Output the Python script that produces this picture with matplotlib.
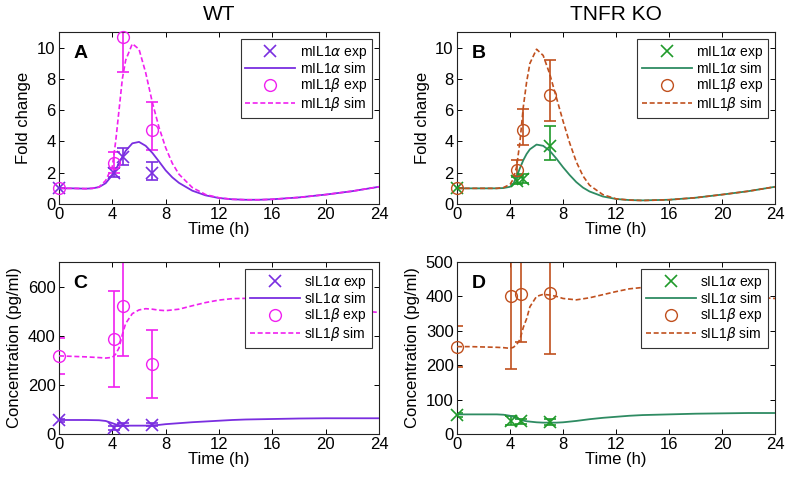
import matplotlib
matplotlib.use("Agg")
import matplotlib.pyplot as plt

plt.rcParams['font.family'] = ['Liberation Sans', 'DejaVu Sans']
plt.rcParams['mathtext.fontset'] = 'dejavusans'

# ---------------- data ----------------
# Panel A (WT, membrane, fold change)
tA_exp = [0, 4.1, 4.8, 7]
mIL1a_A = [1.0, 2.0, 3.0, 2.0]
mIL1a_A_lo = [1.0, 1.7, 2.5, 1.55]
mIL1a_A_hi = [1.0, 2.3, 3.6, 2.7]
mIL1b_A = [1.0, 2.6, 10.7, 4.75]
mIL1b_A_lo = [1.0, 2.0, 8.45, 3.45]
mIL1b_A_hi = [1.0, 3.3, 13.0, 6.55]
tA_sim = [0, 1, 2, 2.5, 3, 3.5, 4, 4.25, 4.5, 4.75, 5, 5.5, 6, 6.5, 7, 7.5, 8, 8.5, 9,
          10, 11, 12, 13, 14, 15, 16, 18, 20, 22, 24]
mIL1a_A_sim = [1.0, 1.0, 0.98, 1.0, 1.08, 1.33, 1.85, 2.2, 2.6, 3.0, 3.4, 3.88, 3.97, 3.72, 3.27,
               2.72, 2.15, 1.7, 1.35, 0.85, 0.55, 0.38, 0.3, 0.27, 0.27, 0.3, 0.42, 0.6, 0.82, 1.1]
mIL1b_A_sim = [1.0, 1.0, 0.98, 1.0, 1.08, 1.5, 2.4, 4.0, 6.0, 8.0, 9.2, 10.25, 9.9, 8.4, 6.5,
               4.9, 3.6, 2.6, 1.9, 1.05, 0.6, 0.4, 0.3, 0.27, 0.27, 0.3, 0.42, 0.6, 0.82, 1.1]

# Panel B (TNFR KO, membrane, fold change)
tB_exp = [0, 4.5, 5.0, 7]
mIL1a_B = [1.0, 1.45, 1.62, 3.7]
mIL1a_B_lo = [1.0, 1.25, 1.35, 2.83]
mIL1a_B_hi = [1.0, 1.7, 1.9, 4.97]
mIL1b_B = [1.0, 2.2, 4.72, 7.0]
mIL1b_B_lo = [1.0, 1.78, 3.76, 5.3]
mIL1b_B_hi = [1.0, 2.8, 6.1, 9.2]
tB_sim = [0, 1, 2, 3, 3.5, 4, 4.25, 4.5, 4.75, 5, 5.25, 5.5, 6, 6.5, 7, 7.5, 8, 8.5, 9, 9.5,
          10, 11, 12, 13, 14, 16, 18, 20, 22, 24]
mIL1a_B_sim = [1.0, 1.0, 1.0, 1.0, 1.02, 1.1, 1.3, 1.75, 2.3, 2.8, 3.2, 3.5, 3.8, 3.72, 3.4,
               2.9, 2.35, 1.85, 1.4, 1.05, 0.8, 0.48, 0.32, 0.25, 0.23, 0.27, 0.4, 0.6, 0.82, 1.1]
mIL1b_B_sim = [1.0, 1.0, 1.0, 1.0, 1.05, 1.25, 1.6, 2.4, 4.0, 6.2, 7.8, 9.0, 9.9, 9.5, 8.3,
               6.8, 5.3, 3.9, 2.7, 1.8, 1.2, 0.6, 0.33, 0.25, 0.22, 0.27, 0.4, 0.6, 0.82, 1.1]

# Panel C (WT, soluble, pg/ml)
tC_exp = [0, 4.1, 4.8, 7]
sIL1a_C = [56, 24, 38, 38]
sIL1a_C_lo = [50, 15, 31, 32]
sIL1a_C_hi = [62, 32, 45, 44]
sIL1b_C = [318, 386, 521, 284]
sIL1b_C_lo = [245, 193, 318, 148]
sIL1b_C_hi = [390, 580, 724, 424]
tC_sim = [0, 1, 2, 3, 3.5, 4, 4.25, 4.5, 4.75, 5, 5.5, 6, 6.5, 7, 7.5, 8, 9, 10, 11, 12,
          13, 14, 16, 18, 20, 22, 24]
sIL1a_C_sim = [57, 57, 57, 56, 53, 44, 39, 36, 35, 34, 34, 34, 34, 35, 37, 40, 44, 48, 51, 54,
               57, 59, 61, 63, 64, 64, 64]
sIL1b_C_sim = [318, 316, 314, 311, 309, 312, 325, 350, 405, 450, 490, 505, 510, 508, 504, 502,
               508, 522, 535, 545, 551, 552, 548, 535, 518, 503, 495]

# Panel D (TNFR KO, soluble, pg/ml)
tD_exp = [0, 4.1, 4.8, 7]
sIL1a_D = [56, 38, 37, 36]
sIL1a_D_lo = [50, 27, 30, 27]
sIL1a_D_hi = [62, 51, 45, 45]
sIL1b_D = [252, 402, 406, 411]
sIL1b_D_lo = [194, 188, 268, 233]
sIL1b_D_hi = [315, 616, 544, 589]
tD_sim = [0, 1, 2, 3, 3.5, 4, 4.25, 4.5, 4.75, 5, 5.25, 5.5, 6, 6.5, 7, 7.5, 8, 9, 10, 11,
          12, 13, 14, 16, 18, 20, 22, 24]
sIL1a_D_sim = [57, 57, 57, 57, 56, 53, 50, 46, 42, 39, 37, 36, 34, 33, 33, 33, 34, 38, 43, 47,
               50, 53, 55, 57, 59, 60, 61, 61]
sIL1b_D_sim = [254, 254, 253, 252, 251, 249, 252, 260, 275, 310, 335, 370, 400, 406, 404, 400,
               394, 390, 396, 405, 414, 422, 426, 425, 418, 408, 399, 394]

xticks = [0, 4, 8, 12, 16, 20, 24]

# ---------------- style ----------------
PURPLE = '#7a2ee0'
MAGENTA = '#f020f0'
GREEN_M = '#1f9a2a'
GREEN_L = '#2e8b62'
BROWN = '#c0501e'

fig = plt.figure(figsize=(7.88, 4.82), dpi=100)

H = 0.3568
axA = fig.add_axes([0.0749, 0.5768, 0.406, H])
axB = fig.add_axes([0.580, 0.5768, 0.4036, H])
axC = fig.add_axes([0.0749, 0.0996, 0.406, H])
axD = fig.add_axes([0.580, 0.0996, 0.4036, H])


def panel(ax, t_exp, a, a_lo, a_hi, b, b_lo, b_hi, t_sim, a_sim, b_sim,
          ca_m, ca_l, cb, labels, ylim, yticks, ylabel, letter):
    ax.errorbar(t_exp, a, yerr=[[v - l for v, l in zip(a, a_lo)], [h - v for v, h in zip(a, a_hi)]],
                fmt='none', ecolor=ca_m, elinewidth=1.2, capsize=4.2, capthick=1.2)
    ax.errorbar(t_exp, b, yerr=[[v - l for v, l in zip(b, b_lo)], [h - v for v, h in zip(b, b_hi)]],
                fmt='none', ecolor=cb, elinewidth=1.2, capsize=4.2, capthick=1.2)
    ax.plot(t_exp, a, linestyle='none', marker='x', ms=9, mew=1.2, color=ca_m,
            label=labels[0], clip_on=False, zorder=4)
    ax.plot(t_sim, a_sim, '-', color=ca_l, lw=1.3, label=labels[1], zorder=3)
    ax.plot(t_exp, b, linestyle='none', marker='o', ms=8.5, mew=1.0, mfc='none', mec=cb,
            label=labels[2], clip_on=False, zorder=4)
    ax.plot(t_sim, b_sim, '--', color=cb, lw=1.2, dashes=(3, 1.6), label=labels[3], zorder=3)
    ax.set_xlim(0, 24)
    ax.set_ylim(*ylim)
    ax.set_xticks(xticks)
    ax.set_yticks(yticks)
    ax.tick_params(direction='in', length=3.5, width=0.7, top=True, right=True,
                   labelsize=12, pad=2.5)
    for s in ax.spines.values():
        s.set_linewidth(0.8)
        s.set_color('#222222')
    ax.set_xlabel('Time (h)', fontsize=12, labelpad=0)
    ax.set_ylabel(ylabel, fontsize=12, labelpad=4)
    ax.text(0.045, 0.925, letter, transform=ax.transAxes, fontsize=14, fontweight='bold',
            va='top', ha='left')
    leg = ax.legend(loc='upper right', fontsize=10, handlelength=3.6, handletextpad=0.3,
                    labelspacing=0.02, borderpad=0.35, borderaxespad=0.5, numpoints=1,
                    fancybox=False, framealpha=1, edgecolor='#333333')
    leg.get_frame().set_linewidth(0.8)
    leg.set_zorder(10)


panel(axA, tA_exp, mIL1a_A, mIL1a_A_lo, mIL1a_A_hi, mIL1b_A, mIL1b_A_lo, mIL1b_A_hi,
      tA_sim, mIL1a_A_sim, mIL1b_A_sim, PURPLE, PURPLE, MAGENTA,
      [r'mIL1$\alpha$ exp', r'mIL1$\alpha$ sim', r'mIL1$\beta$ exp', r'mIL1$\beta$ sim'],
      (0, 11), [0, 2, 4, 6, 8, 10], 'Fold change', 'A')
panel(axB, tB_exp, mIL1a_B, mIL1a_B_lo, mIL1a_B_hi, mIL1b_B, mIL1b_B_lo, mIL1b_B_hi,
      tB_sim, mIL1a_B_sim, mIL1b_B_sim, GREEN_M, GREEN_L, BROWN,
      [r'mIL1$\alpha$ exp', r'mIL1$\alpha$ sim', r'mIL1$\beta$ exp', r'mIL1$\beta$ sim'],
      (0, 11), [0, 2, 4, 6, 8, 10], 'Fold change', 'B')
panel(axC, tC_exp, sIL1a_C, sIL1a_C_lo, sIL1a_C_hi, sIL1b_C, sIL1b_C_lo, sIL1b_C_hi,
      tC_sim, sIL1a_C_sim, sIL1b_C_sim, PURPLE, PURPLE, MAGENTA,
      [r'sIL1$\alpha$ exp', r'sIL1$\alpha$ sim', r'sIL1$\beta$ exp', r'sIL1$\beta$ sim'],
      (0, 700), [0, 200, 400, 600], 'Concentration (pg/ml)', 'C')
panel(axD, tD_exp, sIL1a_D, sIL1a_D_lo, sIL1a_D_hi, sIL1b_D, sIL1b_D_lo, sIL1b_D_hi,
      tD_sim, sIL1a_D_sim, sIL1b_D_sim, GREEN_M, GREEN_L, BROWN,
      [r'sIL1$\alpha$ exp', r'sIL1$\alpha$ sim', r'sIL1$\beta$ exp', r'sIL1$\beta$ sim'],
      (0, 500), [0, 100, 200, 300, 400, 500], 'Concentration (pg/ml)', 'D')

axA.set_title('WT', fontsize=15, pad=9)
axB.set_title('TNFR KO', fontsize=15, pad=9)

fig.savefig('out.png', dpi=100)
